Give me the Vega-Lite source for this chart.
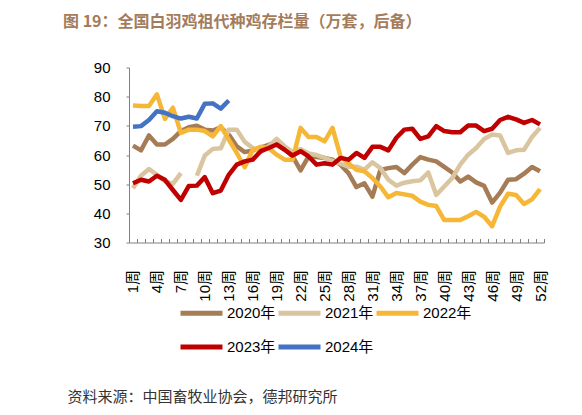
{
  "$schema": "https://vega.github.io/schema/vega-lite/v6.json",
  "width": 415,
  "height": 175,
  "autosize": {"type": "none"},
  "padding": {"left": 129, "top": 67.5, "right": 38, "bottom": 172.5},
  "background": "white",
  "config": {"view": {"stroke": null}, "font": "Liberation Sans, Noto Sans CJK SC"},
  "title": {
    "text": "图 19：全国白羽鸡祖代种鸡存栏量（万套，后备）",
    "anchor": "start", "frame": "group", "dx": -66, "offset": 31,
    "font": "Noto Sans CJK SC", "fontSize": 16, "fontWeight": "bold", "color": "#A47C5B"
  },
  "data": {"values": [
    {"week":1,"year":"2020年","v":63.2},{"week":2,"year":"2020年","v":61.6},{"week":3,"year":"2020年","v":66.7},{"week":4,"year":"2020年","v":63.6},
    {"week":5,"year":"2020年","v":63.6},{"week":6,"year":"2020年","v":65.5},{"week":7,"year":"2020年","v":68.2},{"week":8,"year":"2020年","v":69.5},
    {"week":9,"year":"2020年","v":70.0},{"week":10,"year":"2020年","v":68.7},{"week":11,"year":"2020年","v":68.4},{"week":12,"year":"2020年","v":69.5},
    {"week":13,"year":"2020年","v":67.0},{"week":14,"year":"2020年","v":63.0},{"week":15,"year":"2020年","v":61.0},{"week":16,"year":"2020年","v":61.5},
    {"week":17,"year":"2020年","v":62.5},{"week":18,"year":"2020年","v":63.5},{"week":19,"year":"2020年","v":64.5},{"week":20,"year":"2020年","v":62.0},
    {"week":21,"year":"2020年","v":59.5},{"week":22,"year":"2020年","v":54.7},{"week":23,"year":"2020年","v":59.5},{"week":24,"year":"2020年","v":59.3},
    {"week":25,"year":"2020年","v":59.0},{"week":26,"year":"2020年","v":58.4},{"week":27,"year":"2020年","v":56.7},{"week":28,"year":"2020年","v":53.8},
    {"week":29,"year":"2020年","v":49.0},{"week":30,"year":"2020年","v":50.3},{"week":31,"year":"2020年","v":45.7},{"week":32,"year":"2020年","v":54.9},
    {"week":33,"year":"2020年","v":55.5},{"week":34,"year":"2020年","v":55.9},{"week":35,"year":"2020年","v":53.8},{"week":36,"year":"2020年","v":56.7},
    {"week":37,"year":"2020年","v":59.3},{"week":38,"year":"2020年","v":58.4},{"week":39,"year":"2020年","v":57.8},{"week":40,"year":"2020年","v":55.9},
    {"week":41,"year":"2020年","v":54.0},{"week":42,"year":"2020年","v":50.9},{"week":43,"year":"2020年","v":52.6},{"week":44,"year":"2020年","v":50.6},
    {"week":45,"year":"2020年","v":49.4},{"week":46,"year":"2020年","v":43.7},{"week":47,"year":"2020年","v":47.1},{"week":48,"year":"2020年","v":51.5},
    {"week":49,"year":"2020年","v":51.7},{"week":50,"year":"2020年","v":53.6},{"week":51,"year":"2020年","v":55.9},{"week":52,"year":"2020年","v":54.4},

    {"week":1,"year":"2021年","v":48.6},{"week":2,"year":"2021年","v":52.9},{"week":3,"year":"2021年","v":55.2},{"week":4,"year":"2021年","v":53.2},
    {"week":5,"year":"2021年","v":51.0},{"week":6,"year":"2021年","v":50.1},{"week":7,"year":"2021年","v":53.8},{"week":8,"year":"2021年","v":null},
    {"week":9,"year":"2021年","v":52.9},{"week":10,"year":"2021年","v":59.8},{"week":11,"year":"2021年","v":62.1},{"week":12,"year":"2021年","v":62.3},
    {"week":13,"year":"2021年","v":68.7},{"week":14,"year":"2021年","v":68.7},{"week":15,"year":"2021年","v":64.5},{"week":16,"year":"2021年","v":62.4},
    {"week":17,"year":"2021年","v":61.0},{"week":18,"year":"2021年","v":63.0},{"week":19,"year":"2021年","v":65.5},{"week":20,"year":"2021年","v":63.0},
    {"week":21,"year":"2021年","v":61.0},{"week":22,"year":"2021年","v":62.0},{"week":23,"year":"2021年","v":60.5},{"week":24,"year":"2021年","v":60.0},
    {"week":25,"year":"2021年","v":59.0},{"week":26,"year":"2021年","v":58.0},{"week":27,"year":"2021年","v":57.0},{"week":28,"year":"2021年","v":56.0},
    {"week":29,"year":"2021年","v":56.0},{"week":30,"year":"2021年","v":55.0},{"week":31,"year":"2021年","v":57.5},{"week":32,"year":"2021年","v":55.5},
    {"week":33,"year":"2021年","v":51.5},{"week":34,"year":"2021年","v":49.5},{"week":35,"year":"2021年","v":50.5},{"week":36,"year":"2021年","v":51.0},
    {"week":37,"year":"2021年","v":51.3},{"week":38,"year":"2021年","v":54.0},{"week":39,"year":"2021年","v":46.3},{"week":40,"year":"2021年","v":49.2},
    {"week":41,"year":"2021年","v":52.1},{"week":42,"year":"2021年","v":56.7},{"week":43,"year":"2021年","v":60.1},{"week":44,"year":"2021年","v":62.4},
    {"week":45,"year":"2021年","v":65.5},{"week":46,"year":"2021年","v":67.0},{"week":47,"year":"2021年","v":66.7},{"week":48,"year":"2021年","v":60.7},
    {"week":49,"year":"2021年","v":61.6},{"week":50,"year":"2021年","v":61.8},{"week":51,"year":"2021年","v":66.2},{"week":52,"year":"2021年","v":69.3},

    {"week":1,"year":"2022年","v":77.0},{"week":2,"year":"2022年","v":76.8},{"week":3,"year":"2022年","v":76.8},{"week":4,"year":"2022年","v":80.8},
    {"week":5,"year":"2022年","v":72.4},{"week":6,"year":"2022年","v":76.2},{"week":7,"year":"2022年","v":67.6},{"week":8,"year":"2022年","v":68.7},
    {"week":9,"year":"2022年","v":68.7},{"week":10,"year":"2022年","v":68.2},{"week":11,"year":"2022年","v":66.4},{"week":12,"year":"2022年","v":69.9},
    {"week":13,"year":"2022年","v":65.3},{"week":14,"year":"2022年","v":60.7},{"week":15,"year":"2022年","v":55.8},{"week":16,"year":"2022年","v":61.8},
    {"week":17,"year":"2022年","v":62.8},{"week":18,"year":"2022年","v":62.4},{"week":19,"year":"2022年","v":60.1},{"week":20,"year":"2022年","v":58.4},
    {"week":21,"year":"2022年","v":58.4},{"week":22,"year":"2022年","v":69.3},{"week":23,"year":"2022年","v":66.2},{"week":24,"year":"2022年","v":66.2},
    {"week":25,"year":"2022年","v":64.7},{"week":26,"year":"2022年","v":69.3},{"week":27,"year":"2022年","v":59.5},{"week":28,"year":"2022年","v":57.2},
    {"week":29,"year":"2022年","v":54.9},{"week":30,"year":"2022年","v":54.4},{"week":31,"year":"2022年","v":52.1},{"week":32,"year":"2022年","v":49.2},
    {"week":33,"year":"2022年","v":45.5},{"week":34,"year":"2022年","v":47.0},{"week":35,"year":"2022年","v":46.5},{"week":36,"year":"2022年","v":46.0},
    {"week":37,"year":"2022年","v":44.0},{"week":38,"year":"2022年","v":42.9},{"week":39,"year":"2022年","v":42.5},{"week":40,"year":"2022年","v":37.7},
    {"week":41,"year":"2022年","v":37.7},{"week":42,"year":"2022年","v":37.7},{"week":43,"year":"2022年","v":39.0},{"week":44,"year":"2022年","v":40.5},
    {"week":45,"year":"2022年","v":38.8},{"week":46,"year":"2022年","v":35.6},{"week":47,"year":"2022年","v":42.3},{"week":48,"year":"2022年","v":46.7},
    {"week":49,"year":"2022年","v":46.3},{"week":50,"year":"2022年","v":43.2},{"week":51,"year":"2022年","v":44.8},{"week":52,"year":"2022年","v":48.3},

    {"week":1,"year":"2023年","v":50.3},{"week":2,"year":"2023年","v":51.5},{"week":3,"year":"2023年","v":50.9},{"week":4,"year":"2023年","v":52.9},
    {"week":5,"year":"2023年","v":51.5},{"week":6,"year":"2023年","v":48.0},{"week":7,"year":"2023年","v":44.6},{"week":8,"year":"2023年","v":49.4},
    {"week":9,"year":"2023年","v":49.5},{"week":10,"year":"2023年","v":52.4},{"week":11,"year":"2023年","v":46.9},{"week":12,"year":"2023年","v":47.8},
    {"week":13,"year":"2023年","v":53.2},{"week":14,"year":"2023年","v":56.7},{"week":15,"year":"2023年","v":57.8},{"week":16,"year":"2023年","v":58.4},
    {"week":17,"year":"2023年","v":61.3},{"week":18,"year":"2023年","v":62.4},{"week":19,"year":"2023年","v":63.6},{"week":20,"year":"2023年","v":61.8},
    {"week":21,"year":"2023年","v":59.8},{"week":22,"year":"2023年","v":61.3},{"week":23,"year":"2023年","v":59.5},{"week":24,"year":"2023年","v":56.7},
    {"week":25,"year":"2023年","v":57.2},{"week":26,"year":"2023年","v":56.7},{"week":27,"year":"2023年","v":59.0},{"week":28,"year":"2023年","v":58.4},
    {"week":29,"year":"2023年","v":60.7},{"week":30,"year":"2023年","v":59.0},{"week":31,"year":"2023年","v":62.8},{"week":32,"year":"2023年","v":62.8},
    {"week":33,"year":"2023年","v":61.6},{"week":34,"year":"2023年","v":65.9},{"week":35,"year":"2023年","v":68.7},{"week":36,"year":"2023年","v":69.0},
    {"week":37,"year":"2023年","v":65.5},{"week":38,"year":"2023年","v":66.4},{"week":39,"year":"2023年","v":69.9},{"week":40,"year":"2023年","v":68.2},
    {"week":41,"year":"2023年","v":67.8},{"week":42,"year":"2023年","v":67.8},{"week":43,"year":"2023年","v":70.1},{"week":44,"year":"2023年","v":70.1},
    {"week":45,"year":"2023年","v":68.2},{"week":46,"year":"2023年","v":69.0},{"week":47,"year":"2023年","v":72.0},{"week":48,"year":"2023年","v":73.1},
    {"week":49,"year":"2023年","v":72.2},{"week":50,"year":"2023年","v":71.0},{"week":51,"year":"2023年","v":72.0},{"week":52,"year":"2023年","v":70.5},

    {"week":1,"year":"2024年","v":69.7},{"week":2,"year":"2024年","v":69.9},{"week":3,"year":"2024年","v":72.0},{"week":4,"year":"2024年","v":75.0},
    {"week":5,"year":"2024年","v":74.5},{"week":6,"year":"2024年","v":73.3},{"week":7,"year":"2024年","v":72.5},{"week":8,"year":"2024年","v":73.1},
    {"week":9,"year":"2024年","v":72.5},{"week":10,"year":"2024年","v":77.6},{"week":11,"year":"2024年","v":77.7},{"week":12,"year":"2024年","v":75.9},
    {"week":13,"year":"2024年","v":78.7}
  ]},
  "mark": {"type": "line", "strokeWidth": 4.5, "strokeJoin": "round"},
  "encoding": {
    "x": {
      "field": "week", "type": "ordinal", "sort": "ascending",
      "scale": {"type": "band", "paddingInner": 0, "paddingOuter": 0},
      "axis": {
        "labelExpr": "(datum.value - 1) % 3 == 0 ? datum.value + '周' : ''",
        "labelAngle": -90, "labelAlign": "right", "labelBaseline": "middle",
        "labelOverlap": false, "tickBand": "extent",
        "tickSize": -4, "labelPadding": 31, "labelFontSize": 15, "labelColor": "#000",
        "domainColor": "#808080", "tickColor": "#808080",
        "title": "资料来源：中国畜牧业协会，德邦研究所",
        "titleX": -62, "titleY": 158.5, "titleAnchor": "start", "titleAlign": "left",
        "titleBaseline": "alphabetic", "titleFont": "Noto Sans CJK SC", "titleFontSize": 15,
        "titleFontWeight": "normal", "titleColor": "#333"
      }
    },
    "y": {
      "field": "v", "type": "quantitative",
      "scale": {"domain": [30, 90]},
      "axis": {
        "title": null, "values": [30, 40, 50, 60, 70, 80, 90], "grid": false,
        "tickSize": 3, "labelPadding": 16, "labelFontSize": 15, "labelColor": "#000",
        "domainColor": "#808080", "tickColor": "#808080"
      }
    },
    "color": {
      "field": "year", "type": "nominal",
      "scale": {
        "domain": ["2020年", "2021年", "2022年", "2023年", "2024年"],
        "range": ["#A57C55", "#D9C6A0", "#F6B736", "#C00000", "#4472C4"]
      },
      "legend": {
        "orient": "none", "legendX": 49, "legendY": 222, "direction": "horizontal",
        "columns": 3, "title": null, "symbolType": "stroke", "symbolSize": 1764,
        "symbolStrokeWidth": 5, "labelFontSize": 15, "labelColor": "#000",
        "labelOffset": 2, "columnPadding": -10, "rowPadding": -27
      }
    }
  }
}
